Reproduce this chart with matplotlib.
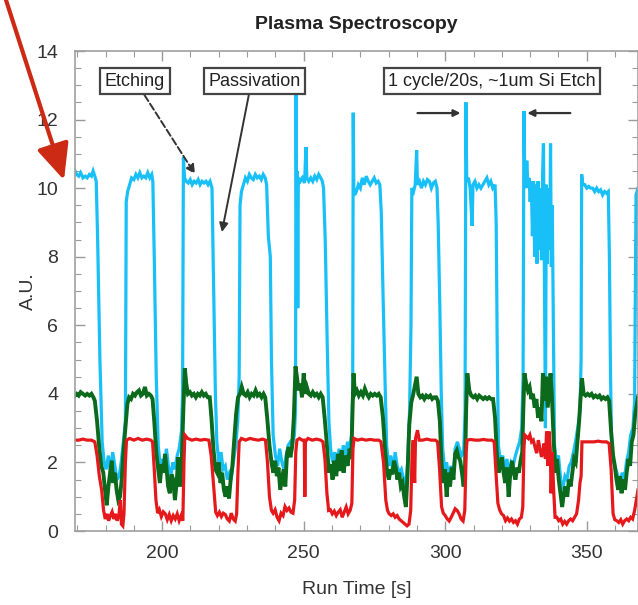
import numpy as np
import matplotlib
matplotlib.use("Agg")
import matplotlib.pyplot as plt
from matplotlib.ticker import MultipleLocator

plt.rcParams['font.family'] = ['Liberation Sans', 'DejaVu Sans']

# ---------------- data ----------------
cyan = [
    (169.2, 10.5), (169.8, 10.4), (170.5, 10.35), (171.2, 10.45), (172.0, 10.3), (172.8, 10.35),
    (173.5, 10.3), (174.3, 10.4), (175.0, 10.35), (175.6, 10.5), (176.2, 10.35), (176.7, 10.2),
    (177.2, 8.5), (178.0, 5.0), (178.8, 2.6),
    (179.5, 2.0), (180.2, 1.8), (181.0, 2.2), (181.8, 1.7), (182.5, 2.3), (183.3, 1.9), (184.0, 1.5),
    (184.8, 1.6), (185.5, 2.0), (186.3, 2.6), (187.0, 3.2),
    (187.3, 9.6), (187.8, 9.9), (188.5, 10.1), (189.2, 10.3), (190.0, 10.25), (190.7, 10.4),
    (191.4, 10.3), (192.1, 10.45), (192.8, 10.3), (193.5, 10.35), (194.2, 10.3), (194.9, 10.45),
    (195.6, 10.3), (196.3, 10.4), (196.7, 10.2),
    (197.2, 8.0), (197.9, 4.5), (198.6, 2.5),
    (199.3, 1.9), (200.0, 2.1), (200.8, 1.8), (201.5, 2.4), (202.2, 1.9), (203.0, 1.6), (203.8, 2.0),
    (204.5, 1.8), (205.3, 2.2), (206.0, 2.4), (206.8, 2.9), (207.2, 4.0),
    (207.5, 10.9), (207.9, 10.3), (208.5, 10.2), (209.2, 10.15), (209.9, 10.25), (210.6, 10.1),
    (211.3, 10.2), (212.0, 10.15), (212.7, 10.25), (213.4, 10.1), (214.1, 10.2), (214.8, 10.15),
    (215.5, 10.2), (216.2, 10.1), (216.9, 10.2), (217.6, 10.0),
    (218.1, 7.5), (218.8, 4.0), (219.3, 2.6),
    (220.0, 2.0), (220.8, 2.3), (221.5, 1.8), (222.3, 1.9), (223.0, 1.5), (223.8, 1.7), (224.5, 1.6),
    (225.3, 2.1), (226.0, 2.5), (226.7, 3.2), (227.2, 4.5),
    (227.5, 9.5), (228.0, 9.9), (228.7, 10.1), (229.4, 10.3), (230.1, 10.2), (230.8, 10.4),
    (231.5, 10.3), (232.2, 10.25), (232.9, 10.4), (233.6, 10.3), (234.3, 10.35), (235.0, 10.25),
    (235.7, 10.4), (236.4, 10.3), (236.9, 10.1),
    (237.5, 8.6), (238.2, 8.0), (238.6, 5.0), (239.2, 2.8),
    (240.0, 2.2), (240.8, 1.9), (241.5, 2.4), (242.3, 2.0), (243.0, 1.8), (243.8, 2.2), (244.5, 2.5),
    (245.3, 2.6), (246.0, 2.5), (246.7, 2.8), (247.1, 3.5),
    (247.3, 12.9), (247.5, 9.0), (247.7, 10.5), (247.9, 6.5), (248.1, 10.3), (248.8, 10.2),
    (249.5, 10.3), (250.3, 10.15), (250.8, 11.2), (251.1, 10.3), (251.8, 10.2), (252.5, 10.3),
    (253.2, 10.2), (253.9, 10.35), (254.6, 10.25), (255.3, 10.4), (256.0, 10.3), (256.6, 10.2),
    (257.0, 10.0),
    (257.6, 8.5), (258.3, 5.5), (258.9, 3.2),
    (259.5, 2.4), (260.2, 2.0), (261.0, 2.3), (261.7, 1.9), (262.5, 2.4), (263.2, 2.0), (264.0, 2.5),
    (264.7, 2.2), (265.5, 2.6), (266.2, 2.4), (266.9, 2.8), (267.3, 4.0),
    (267.5, 12.2), (267.7, 10.0), (268.0, 9.8), (268.6, 9.9), (269.3, 10.1), (270.0, 10.0),
    (270.7, 10.3), (271.4, 10.1), (272.1, 10.35), (272.8, 10.2), (273.5, 10.1), (274.2, 10.2),
    (274.9, 10.3), (275.6, 10.15), (276.3, 10.2), (276.9, 10.1),
    (277.4, 9.3), (278.0, 7.0), (278.7, 4.5), (279.3, 2.5),
    (280.0, 1.9), (280.8, 2.2), (281.5, 1.7), (282.3, 2.3), (283.0, 1.9), (283.8, 1.7), (284.5, 1.8),
    (285.3, 1.5), (286.0, 1.3), (286.7, 2.0), (287.4, 3.5), (287.9, 6.0),
    (288.2, 10.0), (288.8, 9.9), (289.4, 10.1), (289.9, 11.1), (290.2, 10.1), (290.9, 10.2),
    (291.6, 10.0), (292.3, 10.2), (293.0, 10.1), (293.7, 10.25), (294.4, 10.2), (295.1, 10.0),
    (295.8, 10.15), (296.5, 10.2), (297.1, 10.0),
    (297.5, 9.0), (298.1, 6.5), (298.6, 4.0), (299.1, 2.4),
    (299.8, 1.8), (300.5, 2.0), (301.3, 1.5), (302.0, 1.9), (302.8, 1.6), (303.5, 2.4), (304.3, 2.6),
    (305.0, 2.4), (305.8, 2.2), (306.5, 2.3), (307.0, 3.5),
    (307.3, 12.5), (307.6, 10.2), (308.2, 10.3), (308.8, 10.0), (309.5, 8.9), (309.8, 10.1),
    (310.5, 10.2), (311.2, 10.0), (311.9, 10.1), (312.6, 10.0), (313.3, 10.1), (314.0, 10.2),
    (314.7, 10.3), (315.4, 10.1), (316.1, 10.2), (316.8, 10.0), (317.6, 10.1),
    (318.0, 9.0), (318.4, 5.0), (318.8, 2.5),
    (319.5, 2.0), (320.3, 2.2), (321.0, 1.8), (321.8, 2.1), (322.5, 1.6), (323.3, 2.0), (324.0, 1.9),
    (324.8, 2.2), (325.5, 2.4), (326.3, 2.6), (327.0, 3.0), (327.5, 4.5),
    (327.8, 12.25), (328.1, 10.3), (328.5, 10.0), (328.8, 10.8), (329.2, 10.1), (329.6, 10.3),
    (330.0, 9.6), (330.4, 10.2), (330.8, 8.6), (331.2, 10.2), (331.6, 8.0), (332.0, 10.1),
    (332.4, 7.8), (332.8, 10.2), (333.2, 8.2), (333.6, 10.0), (334.0, 7.9), (334.4, 10.4),
    (334.7, 11.3), (335.0, 8.0), (335.4, 3.0), (335.7, 10.1), (336.1, 7.8), (336.5, 10.0),
    (336.9, 8.2), (337.2, 11.3), (337.5, 7.7), (337.8, 9.5),
    (338.2, 6.0), (338.6, 2.5),
    (339.3, 2.0), (340.0, 2.2), (340.8, 1.5), (341.5, 1.2), (342.3, 1.6), (343.0, 1.5), (343.8, 1.9),
    (344.5, 2.0), (345.3, 2.3), (346.0, 2.6), (346.8, 3.0), (347.6, 3.5), (348.0, 5.0),
    (348.2, 10.4), (348.6, 10.1), (349.3, 10.1), (350.0, 10.0), (350.7, 10.05), (351.4, 10.0),
    (352.1, 10.0), (352.8, 9.9), (353.5, 10.0), (354.2, 9.9), (354.9, 9.95), (355.6, 9.8),
    (356.3, 9.9), (357.0, 9.85), (357.6, 9.9),
    (358.0, 8.0), (358.4, 4.5), (358.8, 2.5),
    (359.5, 2.0), (360.3, 1.8), (361.0, 1.6), (361.8, 1.4), (362.5, 1.7), (363.3, 1.5), (364.0, 2.0),
    (364.8, 2.3), (365.5, 2.8), (366.3, 3.0), (366.9, 3.8), (367.4, 9.8), (368.1, 10.0),
]

green = [
    (169.2, 3.95), (169.8, 4.0), (170.5, 3.95), (171.2, 4.05), (172.0, 4.0), (172.8, 3.95),
    (173.5, 4.0), (174.3, 3.95), (175.0, 4.0), (175.7, 3.9), (176.2, 3.8),
    (177.0, 3.2), (177.8, 2.4), (178.5, 1.9), (179.2, 1.7),
    (179.8, 1.2), (180.4, 0.75), (181.0, 1.3), (181.6, 1.7), (182.2, 2.05), (182.7, 1.4),
    (183.3, 1.7), (183.9, 1.2), (184.5, 0.9), (185.1, 1.0), (185.7, 1.5), (186.3, 2.3),
    (187.0, 3.0), (187.7, 3.7), (188.3, 3.9),
    (189.0, 3.85), (189.7, 4.0), (190.4, 3.95), (191.1, 4.05), (191.8, 4.1), (192.5, 3.95),
    (193.2, 4.0), (193.9, 4.2), (194.6, 3.95), (195.3, 4.0), (196.0, 3.95), (196.6, 3.85),
    (197.2, 3.2), (197.9, 2.3), (198.6, 1.8),
    (199.2, 1.4), (199.8, 1.95), (200.4, 1.7), (201.0, 2.25), (201.5, 1.85), (202.1, 1.3),
    (202.7, 1.1), (203.3, 1.65), (203.9, 1.5), (204.5, 0.9), (205.1, 1.4), (205.7, 2.15),
    (206.3, 1.3), (206.9, 2.0), (207.5, 3.6),
    (208.0, 4.75), (208.5, 4.3), (209.1, 4.0), (209.8, 4.05), (210.5, 3.95), (211.2, 4.0),
    (211.9, 3.9), (212.6, 4.0), (213.3, 3.95), (214.0, 4.05), (214.7, 3.95), (215.4, 4.0),
    (216.1, 3.9), (216.8, 3.9),
    (217.4, 3.3), (218.1, 2.4), (218.8, 1.8),
    (219.4, 1.7), (220.0, 2.0), (220.6, 1.4), (221.2, 1.7), (221.8, 1.2), (222.4, 1.0),
    (223.0, 1.3), (223.6, 0.95), (224.2, 1.5), (224.8, 1.9), (225.4, 2.6), (226.1, 3.4),
    (226.8, 3.9), (227.5, 4.0), (228.1, 4.2),
    (228.8, 4.0), (229.5, 3.95), (230.2, 4.05), (230.9, 3.9), (231.6, 4.0), (232.3, 3.95),
    (233.0, 4.1), (233.7, 3.95), (234.4, 4.0), (235.1, 3.9), (235.8, 4.0), (236.4, 3.9),
    (237.1, 3.3), (237.9, 2.5), (238.7, 1.95),
    (239.3, 1.7), (239.9, 2.05), (240.5, 1.6), (241.1, 1.85), (241.7, 1.2), (242.3, 1.5),
    (242.9, 1.8), (243.5, 1.3), (244.1, 2.25), (244.7, 2.45), (245.3, 2.15), (245.9, 2.45),
    (246.5, 3.3), (247.1, 4.8),
    (247.6, 4.5), (248.2, 4.1), (248.8, 4.3), (249.4, 3.9), (250.0, 4.6), (250.5, 4.0),
    (251.1, 4.2), (251.8, 4.0), (252.5, 3.95), (253.2, 4.05), (253.9, 3.95), (254.6, 4.0),
    (255.3, 3.9), (256.0, 4.0), (256.7, 3.9),
    (257.4, 3.3), (258.1, 2.6), (258.9, 1.7),
    (259.5, 1.95), (260.2, 1.5), (260.8, 2.05), (261.5, 1.6), (262.1, 2.25), (262.8, 1.75),
    (263.4, 2.35), (264.1, 1.7), (264.8, 2.2), (265.5, 1.9), (266.2, 2.4), (266.8, 2.1),
    (267.3, 3.6), (267.6, 4.6),
    (268.1, 4.0), (268.8, 4.1), (269.5, 3.95), (270.2, 4.05), (270.9, 3.95), (271.6, 4.15),
    (272.3, 4.0), (273.0, 3.9), (273.7, 4.0), (274.4, 3.95), (275.1, 4.0), (275.8, 3.95),
    (276.5, 4.0), (277.2, 3.9),
    (278.0, 3.3), (278.8, 2.3), (279.5, 1.7),
    (280.1, 1.5), (280.7, 1.8), (281.3, 1.65), (281.9, 2.05), (282.5, 1.85), (283.1, 1.5),
    (283.7, 1.7), (284.3, 1.3), (284.9, 1.4), (285.5, 1.0), (286.1, 0.7), (286.7, 1.7),
    (287.3, 3.1), (288.0, 3.75), (288.6, 3.95), (289.9, 4.5),
    (290.5, 4.0), (291.2, 3.9), (291.9, 3.95), (292.6, 3.85), (293.3, 3.95), (294.0, 3.9),
    (294.7, 3.95), (295.4, 3.85), (296.1, 3.9), (296.8, 3.9), (297.4, 3.8),
    (298.1, 3.2), (298.7, 1.95),
    (299.3, 1.4), (299.9, 1.8), (300.5, 1.0), (301.1, 1.7), (301.7, 1.3), (302.3, 1.85),
    (302.9, 1.5), (303.5, 2.25), (304.1, 2.35), (304.7, 2.15), (305.3, 2.05), (305.9, 1.7),
    (306.5, 1.3), (307.0, 1.9), (307.4, 3.6), (307.8, 4.6),
    (308.5, 4.1), (309.2, 3.95), (309.9, 3.9), (310.6, 3.95), (311.3, 3.85), (312.0, 3.95),
    (312.7, 3.9), (313.4, 3.85), (314.1, 3.9), (314.8, 3.85), (315.5, 3.9), (316.2, 3.85),
    (316.9, 3.85),
    (317.6, 3.3), (318.2, 2.3), (318.8, 1.7),
    (319.4, 1.9), (320.0, 2.15), (320.6, 1.7), (321.2, 1.4), (321.8, 1.85), (322.4, 1.0),
    (323.0, 1.7), (323.6, 2.05), (324.2, 1.7), (324.8, 1.5), (325.4, 1.85), (326.0, 1.7),
    (326.6, 2.05), (327.2, 2.3), (327.6, 3.6), (328.0, 4.6),
    (328.6, 4.3), (329.2, 4.1), (329.8, 4.2), (330.4, 3.85), (331.0, 4.0), (331.6, 3.6),
    (332.2, 3.85), (332.8, 3.3), (333.4, 3.6), (334.0, 3.2), (334.5, 4.6), (335.0, 3.8),
    (335.6, 4.5), (336.2, 3.6), (336.8, 4.2), (337.2, 4.6), (337.7, 3.9),
    (338.3, 2.65), (338.9, 1.7),
    (339.5, 2.1), (340.1, 1.5), (340.7, 1.1), (341.3, 0.7), (341.9, 1.1), (342.5, 1.3),
    (343.1, 1.0), (343.7, 1.5), (344.3, 1.3), (344.9, 1.7), (345.5, 2.1), (346.1, 2.0),
    (346.7, 2.6), (347.3, 3.2), (347.9, 4.0), (348.3, 4.45),
    (348.9, 4.0), (349.6, 3.95), (350.3, 4.0), (351.0, 3.95), (351.7, 4.0), (352.4, 3.9),
    (353.1, 3.95), (353.8, 3.9), (354.5, 3.95), (355.2, 3.85), (355.9, 3.9), (356.6, 3.85),
    (357.3, 3.9), (357.9, 3.8),
    (358.6, 2.9), (359.3, 2.2),
    (359.9, 1.9), (360.5, 1.5), (361.1, 1.2), (361.7, 1.6), (362.3, 1.1), (362.9, 1.5),
    (363.5, 1.2), (364.1, 1.7), (364.7, 2.1), (365.3, 1.9), (365.9, 2.6), (366.5, 2.8),
    (367.1, 3.4), (368.1, 3.9),
]

red = [
    (169.2, 2.65), (170.5, 2.65), (172.0, 2.68), (173.5, 2.65), (175.0, 2.65), (176.2, 2.6),
    (177.0, 2.2), (177.8, 1.6), (178.6, 1.2), (179.3, 0.6),
    (179.9, 0.35), (180.5, 0.5), (181.1, 0.3), (181.7, 0.45), (182.3, 0.56), (182.9, 0.35),
    (183.5, 0.5), (184.1, 0.3), (184.7, 0.45), (185.2, 0.9), (185.6, 0.2), (186.1, 0.15),
    (186.5, 0.5), (187.0, 2.0), (187.4, 2.65),
    (188.5, 2.7), (190.0, 2.65), (191.5, 2.7), (193.0, 2.65), (194.5, 2.68), (196.0, 2.65),
    (196.6, 2.6),
    (197.2, 1.8), (197.8, 0.9), (198.4, 0.52),
    (199.0, 0.62), (199.7, 0.42), (200.4, 0.56), (201.1, 0.5), (201.8, 0.33), (202.5, 0.48),
    (203.2, 0.3), (203.9, 0.45), (204.6, 0.35), (205.3, 0.5), (206.0, 0.3), (206.7, 0.45),
    (207.3, 0.3), (207.7, 2.0), (208.0, 2.8),
    (209.0, 2.7), (210.5, 2.65), (212.0, 2.68), (213.5, 2.65), (215.0, 2.67), (216.5, 2.65),
    (217.3, 2.2), (218.0, 1.5), (218.9, 0.55),
    (219.5, 0.45), (220.2, 0.55), (220.9, 0.42), (221.6, 0.52), (222.3, 0.48), (223.0, 0.35),
    (223.7, 0.29), (224.4, 0.52), (225.1, 0.35), (225.8, 0.29), (226.3, 0.5),
    (226.8, 1.8), (227.2, 2.6),
    (228.0, 2.7), (229.5, 2.65), (231.0, 2.7), (232.5, 2.67), (234.0, 2.65), (235.5, 2.68),
    (236.5, 2.65),
    (237.2, 2.0), (237.9, 1.0), (238.6, 0.6),
    (239.2, 0.52), (239.9, 0.62), (240.6, 0.4), (241.3, 0.3), (242.0, 0.52), (242.7, 0.45),
    (243.4, 0.71), (244.1, 0.6), (244.8, 0.67), (245.5, 0.55), (246.2, 0.52), (246.8, 0.9),
    (247.2, 2.3), (247.6, 2.65),
    (248.5, 2.7), (249.5, 2.65), (250.2, 2.65), (250.4, 1.0), (250.6, 2.6), (251.5, 2.7),
    (253.0, 2.65), (254.5, 2.68), (256.0, 2.65), (256.8, 2.6),
    (257.5, 2.1), (258.2, 1.1), (258.8, 0.6),
    (259.4, 0.62), (260.1, 0.5), (260.8, 0.58), (261.5, 0.45), (262.2, 0.55), (262.9, 0.62),
    (263.6, 0.4), (264.3, 0.55), (265.0, 0.7), (265.7, 0.5), (266.4, 0.6), (267.0, 0.8),
    (267.4, 2.4), (267.8, 2.7),
    (269.0, 2.65), (270.5, 2.68), (272.0, 2.65), (273.5, 2.67), (275.0, 2.65), (276.5, 2.65),
    (277.3, 2.6),
    (278.2, 2.0), (279.0, 0.9), (279.6, 0.6),
    (280.2, 0.5), (280.9, 0.45), (281.6, 0.5), (282.3, 0.4), (283.0, 0.45), (283.7, 0.35),
    (284.4, 0.3), (285.1, 0.25), (285.8, 0.2), (286.5, 0.15), (287.2, 0.2), (287.8, 0.6),
    (288.3, 2.3), (288.7, 2.65), (289.2, 1.4), (289.5, 2.7), (290.2, 2.94), (290.8, 2.65),
    (292.0, 2.65), (293.5, 2.68), (295.0, 2.65), (296.5, 2.65), (297.3, 2.6),
    (298.0, 1.8), (298.7, 0.71),
    (299.3, 0.52), (300.0, 0.45), (300.7, 0.35), (301.4, 0.29), (302.1, 0.4), (302.8, 0.52),
    (303.5, 0.65), (304.2, 0.6), (304.9, 0.5), (305.6, 0.35), (306.3, 0.29), (306.9, 0.6),
    (307.4, 2.3), (307.7, 2.65),
    (309.0, 2.67), (310.5, 2.65), (312.0, 2.65), (313.5, 2.67), (315.0, 2.65), (316.5, 2.65),
    (317.3, 2.6),
    (318.0, 1.6), (318.6, 0.81),
    (319.2, 0.62), (319.9, 0.5), (320.6, 0.45), (321.3, 0.3), (322.0, 0.38), (322.7, 0.29),
    (323.4, 0.35), (324.1, 0.25), (324.8, 0.3), (325.5, 0.2), (326.2, 0.35), (326.9, 0.4),
    (327.4, 0.7), (327.8, 2.4), (328.1, 2.8),
    (328.7, 2.75), (329.3, 2.7), (329.9, 2.8), (330.5, 2.6), (331.1, 2.65), (331.7, 2.45),
    (332.3, 2.27), (332.9, 2.65), (333.5, 2.4), (334.0, 2.16), (334.5, 2.3), (334.9, 2.55),
    (335.4, 2.1), (335.8, 2.9), (336.2, 1.9), (336.7, 2.9), (337.1, 2.4), (337.4, 1.1),
    (337.8, 2.3),
    (338.3, 1.2), (338.8, 0.4),
    (339.4, 0.4), (340.1, 0.3), (340.8, 0.35), (341.5, 0.2), (342.2, 0.28), (342.9, 0.2),
    (343.6, 0.3), (344.3, 0.35), (345.0, 0.3), (345.7, 0.4), (346.4, 0.5), (347.1, 0.9),
    (347.6, 1.4), (348.0, 1.6), (348.3, 2.6),
    (349.5, 2.6), (351.0, 2.6), (352.5, 2.6), (354.0, 2.62), (355.5, 2.6), (357.0, 2.6),
    (357.9, 2.55),
    (358.6, 1.8), (359.3, 0.5),
    (359.9, 0.33), (360.6, 0.3), (361.3, 0.25), (362.0, 0.33), (362.7, 0.2), (363.4, 0.3),
    (364.1, 0.35), (364.8, 0.3), (365.5, 0.4), (366.2, 0.35), (366.9, 0.6), (367.5, 0.9),
    (368.1, 1.2),
]

title = "Plasma Spectroscopy"
xlabel = "Run Time [s]"
ylabel = "A.U."
label_etch = "Etching"
label_pass = "Passivation"
label_cycle = "1 cycle/20s, ~1um Si Etch"
xticks = [200, 250, 300, 350]
yticks = [0, 2, 4, 6, 8, 10, 12, 14]

# ---------------- figure ----------------
W, H = 638, 605
fig = plt.figure(figsize=(W / 100, H / 100), dpi=100)
ax = fig.add_axes([75 / W, 1 - 531 / H, 1 - 75 / W, (531 - 51) / H])

c_cyan = '#19c0f7'
c_green = '#0b6a1c'
c_red = '#e5191c'

for data, col, lw in ((cyan, c_cyan, 2.3), (green, c_green, 2.8), (red, c_red, 2.3)):
    arr = np.array(data)
    ax.plot(arr[:, 0], arr[:, 1], color=col, lw=lw, solid_joinstyle='miter')

ax.set_xlim(169.2, 368.1)
ax.set_ylim(0, 14)
ax.set_xticks(xticks)
ax.set_yticks(yticks)
ax.xaxis.set_minor_locator(MultipleLocator(10))
ax.yaxis.set_minor_locator(MultipleLocator(0.5))
ax.tick_params(which='both', direction='in', top=True, right=True, colors='#9a9a9a',
               labelcolor='#333333', labelsize=14)
ax.tick_params(which='major', length=7, width=1.0)
ax.tick_params(which='minor', length=4, width=0.8)
ax.tick_params(axis='y', pad=12)
ax.tick_params(axis='x', pad=10)
for s in ax.spines.values():
    s.set_color('#a0a0a0')
    s.set_linewidth(1.2)

ax.set_title(title, fontsize=14, fontweight='bold', color='#222222', pad=16)
ax.set_xlabel(xlabel, fontsize=14, color='#333333', labelpad=14)
ax.set_ylabel(ylabel, fontsize=14, color='#333333', labelpad=0)

box = dict(boxstyle='square,pad=0.25', fc='white', ec='#444444', lw=1.6)
ax.annotate(label_etch, xy=(211.6, 10.41), xytext=(190.4, 13.12), fontsize=13,
            ha='center', va='center', color='#222222', bbox=box,
            arrowprops=dict(arrowstyle='-|>,head_length=0.4,head_width=0.2', ls='--',
                            color='#333333', lw=1.4, shrinkA=0, shrinkB=0,
                            relpos=(0.6, 0.0)))
ax.annotate(label_pass, xy=(221.1, 8.72), xytext=(232.6, 13.12), fontsize=13,
            ha='center', va='center', color='#222222', bbox=box,
            arrowprops=dict(arrowstyle='-|>,head_length=0.4,head_width=0.2',
                            color='#333333', lw=1.4, shrinkA=0, shrinkB=0,
                            relpos=(0.45, 0.0)))
ax.text(316.5, 13.12, label_cycle, fontsize=13, ha='center', va='center',
        color='#222222', bbox=box)
ax.annotate('', xy=(305.4, 12.19), xytext=(290.2, 12.19),
            arrowprops=dict(arrowstyle='-|>,head_length=0.4,head_width=0.2',
                            color='#333333', lw=1.6, shrinkA=0, shrinkB=0))
ax.annotate('', xy=(329.0, 12.19), xytext=(344.2, 12.19),
            arrowprops=dict(arrowstyle='-|>,head_length=0.4,head_width=0.2',
                            color='#333333', lw=1.6, shrinkA=0, shrinkB=0))

# red pointer arrow in the top-left corner
fig.add_artist(matplotlib.patches.FancyArrowPatch(
    (6 / W, 1.0), (64 / W, 1 - 180 / H), transform=fig.transFigure,
    arrowstyle='-|>,head_length=11,head_width=5', color='#cc2a14', lw=3.0,
    shrinkA=0, shrinkB=0, mutation_scale=2))

fig.savefig('out.png', dpi=100)
